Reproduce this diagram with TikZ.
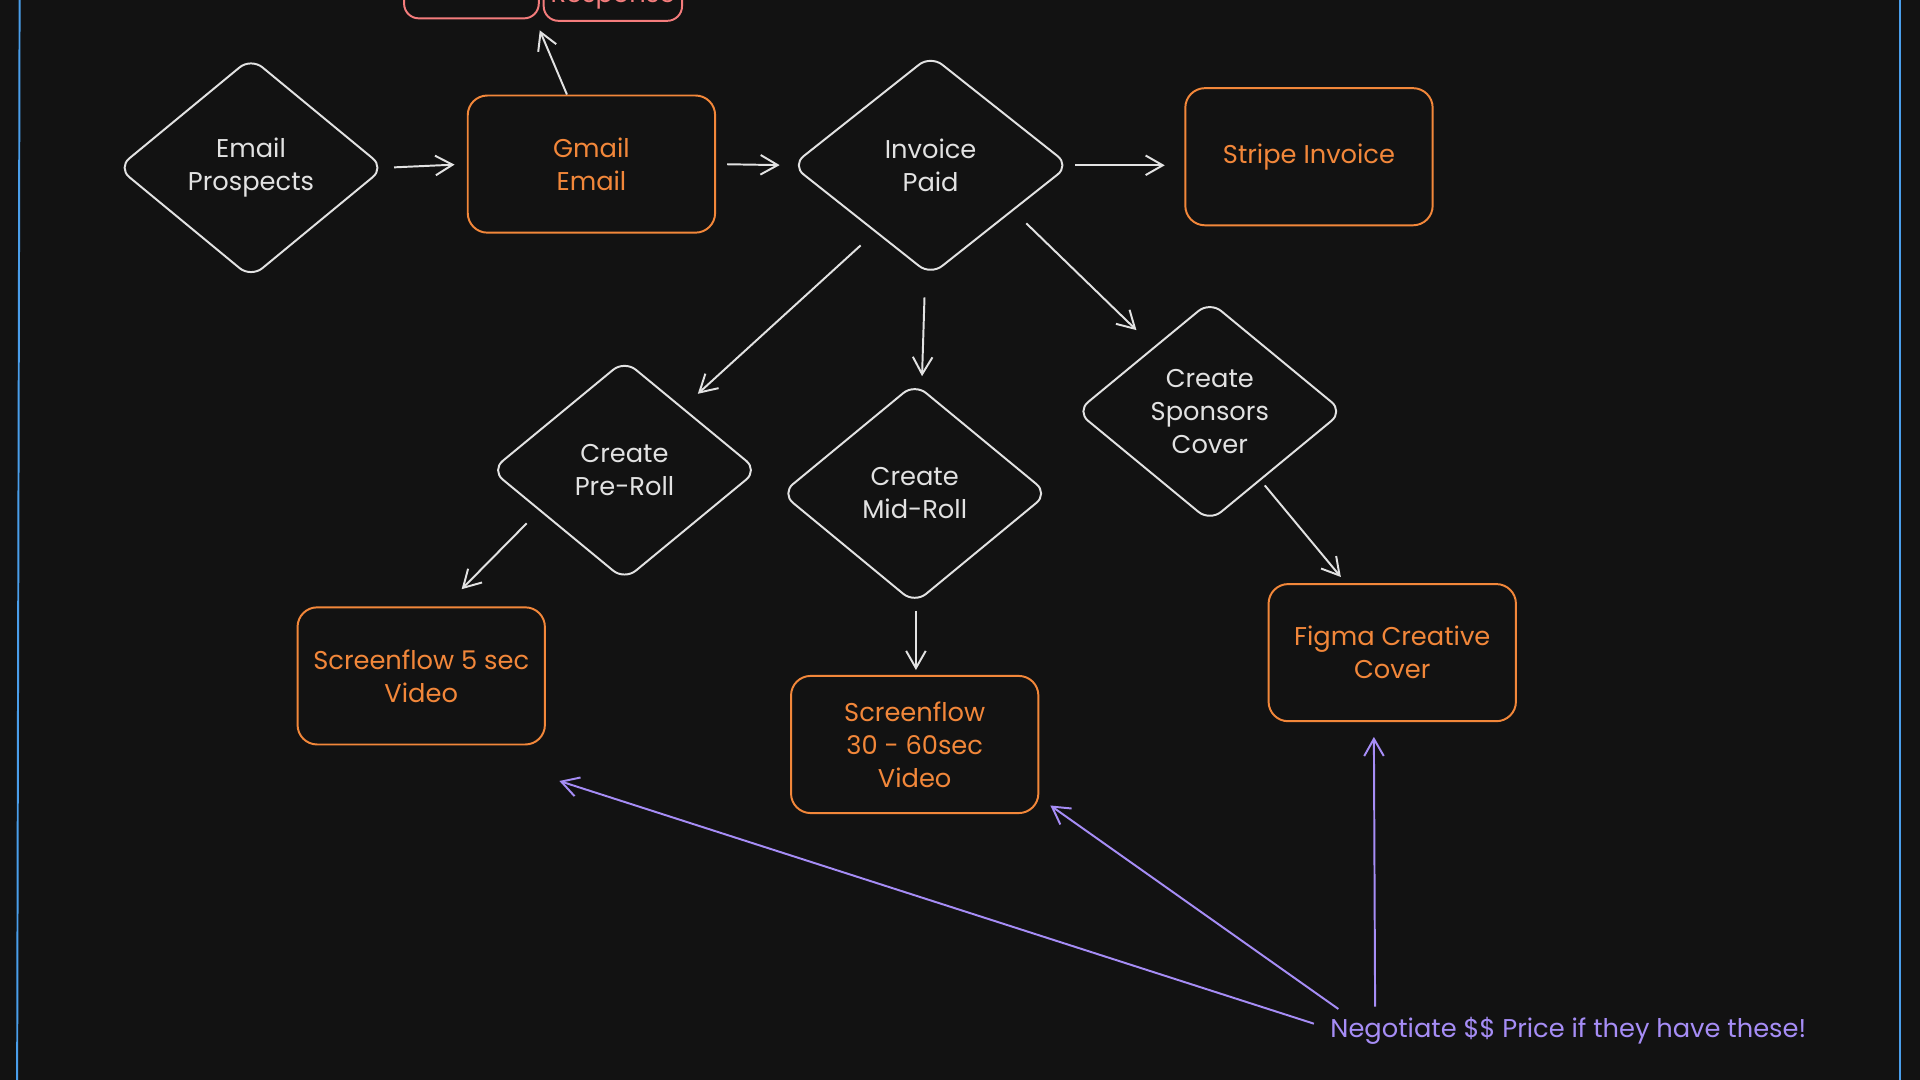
\documentclass[tikz,border=0pt]{standalone}
\usepackage{fontspec}
\setmainfont{Poppins}
\usetikzlibrary{shapes.geometric,arrows.meta}
\definecolor{bg}{HTML}{121212}
\definecolor{sketchwhite}{HTML}{E2E2E2}
\definecolor{sketchorange}{HTML}{F2873A}
\definecolor{sketchred}{HTML}{F47C7C}
\definecolor{sketchpurple}{HTML}{A68DF6}
\definecolor{sketchblue}{HTML}{4A9EEA}
\tikzset{
  decision/.style={diamond, draw=sketchwhite, line width=1.6pt, rounded corners=12pt,
    minimum width=218pt, minimum height=180pt, inner sep=0pt, text=sketchwhite, align=center},
  task/.style={rectangle, draw=sketchorange, line width=1.6pt, rounded corners=16pt,
    minimum width=202pt, minimum height=112pt, text=sketchorange, align=center},
  reply/.style={rectangle, draw=sketchred, line width=1.6pt, rounded corners=12pt,
    minimum height=66pt, text=sketchred, align=center},
  flow/.style={draw=sketchwhite, line width=1.6pt, -{Straight Barb[length=14pt,width=16pt]}},
  hint/.style={draw=sketchpurple, line width=1.6pt, -{Straight Barb[length=14pt,width=16pt]}},
}
\begin{document}
\begin{tikzpicture}[x=1pt,y=-1pt,font=\fontsize{21}{27}\selectfont]
        \fill[bg] (0,0) rectangle (1568,882);
        \useasboundingbox (0,0) rectangle (1568,882);
        \clip (0,0) rectangle (1568,882);
        %% frame lines
        \draw[sketchblue,line width=1.6pt] (16,0) -- (14,882);
        \draw[sketchblue,line width=1.6pt] (1552,0) -- (1552,882);
        %% replies at the top
        \node[reply,minimum width=110pt] (noreply) at (385,-18) {};
        \node[reply,minimum width=113pt] (response) at (500.5,-16) {\phantom{X}\\Response};
        %% first row
        \node[decision] (prospects) at (205,137) {Email\\Prospects};
        \node[task] (gmail) at (483,134) {Gmail\\Email};
        \node[decision,minimum width=227pt] (paid) at (760,135) {Invoice\\Paid};
        \node[task] (stripe) at (1069,128) {Stripe Invoice};
        %% second row
        \node[decision] (preroll) at (510,384) {Create\\Pre-Roll};
        \node[decision] (midroll) at (747,403) {Create\\Mid-Roll};
        \node[decision] (cover) at (988,336) {Create\\Sponsors\\Cover};
        %% outputs
        \node[task] (fivesec) at (344,552) {Screenflow 5 sec\\Video};
        \node[task] (sixtysec) at (747,608) {Screenflow\\30 - 60sec\\Video};
        \node[task] (figma) at (1137,533) {Figma Creative\\Cover};
        \node[text=sketchpurple,anchor=west] (haggle) at (1083,842) {Negotiate \$\$ Price if they have these!};
        %% main flow
        \draw[flow,shorten <=7pt,shorten >=10pt] (prospects.east) -- (gmail.west);
        \draw[flow,shorten <=9pt,shorten >=9pt] (gmail.east) -- (paid.west);
        \draw[flow,shorten <=4pt,shorten >=16pt] (paid.east) -- (stripe.west |- paid.east);
        \draw[flow] ([xshift=-20pt]gmail.north) -- ([shift={(0,9)}]noreply.south east);
        %% split after payment
        \draw[flow] ([shift={(0,20)}]paid.south west) -- ([shift={(5,-17)}]preroll.north east);
        \draw[flow] ([shift={(-5,17)}]paid.south) -- ([shift={(6,-5)}]midroll.north);
        \draw[flow] ([shift={(21,2)}]paid.south east) -- ([shift={(-5,-21)}]cover.north west);
        %% to the outputs
        \draw[flow] ([shift={(-25,-2)}]preroll.south west) -- ([shift={(33,-14)}]fivesec.north);
        \draw[flow] ([shift={(1,5)}]midroll.south) -- ([shift={(1,-4)}]sixtysec.north);
        \draw[flow] ([shift={(-10,15)}]cover.south east) -- ([shift={(-42,-5)}]figma.north);
        %% negotiate note
        \draw[hint] ([shift={(-10,-6)}]haggle.west) -- ([shift={(11,29)}]fivesec.south east);
        \draw[hint] ([shift={(10,-18)}]haggle.west) -- ([shift={(9,-7)}]sixtysec.south east);
        \draw[hint] ([shift={(40,-20)}]haggle.west) -- ([shift={(-15,12)}]figma.south);
    \end{tikzpicture}
\end{document}
